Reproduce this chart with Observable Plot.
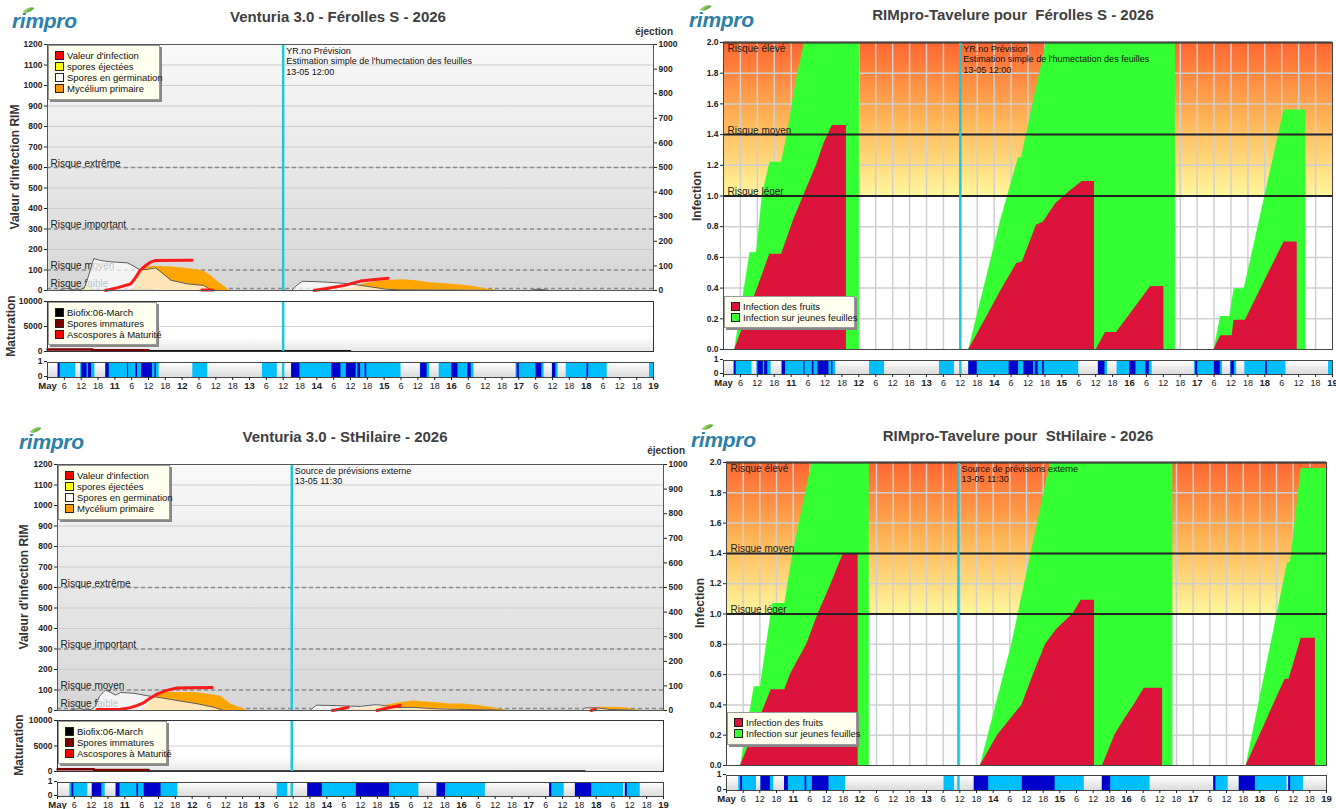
<!DOCTYPE html>
<html><head><meta charset="utf-8">
<script src="https://cdn.jsdelivr.net/npm/d3@7"></script>
<script src="https://cdn.jsdelivr.net/npm/@observablehq/plot@0.6"></script>
<style>
body{margin:0;background:#fff;width:1336px;height:809px;overflow:hidden;font-family:"Liberation Sans",Arial,sans-serif;}
#root{position:relative;width:1336px;height:809px;}
.title{position:absolute;font-weight:bold;font-size:15px;color:#404040;white-space:pre;transform:translateX(-50%);line-height:18px;}
.logo{position:absolute;font-style:italic;font-weight:bold;font-size:21px;line-height:21px;color:#2a80a6;letter-spacing:-0.3px;}
.leaf{position:absolute;width:11px;height:6px;background:linear-gradient(#a8dc70,#4fa030);border-radius:0 100% 0 100%;transform:rotate(-45deg);}
.vlab{position:absolute;font-weight:bold;font-size:12px;color:#333;white-space:nowrap;transform:translate(-50%,-50%) rotate(-90deg);}
.ej{position:absolute;font-weight:bold;font-size:10px;color:#333;transform:translateX(-100%);}
.lg{position:absolute;background:#ffffee;border:1px solid #999;box-shadow:2px 2px 0 #888;font-size:9.5px;color:#111;padding:4px 0 0 6px;box-sizing:border-box;}
.lg div{height:11px;line-height:11px;white-space:nowrap;}
.lg span{display:inline-block;width:7px;height:7px;border:1px solid #222;margin-right:3px;vertical-align:-1px;}
</style></head>
<body>
<svg width="0" height="0" style="position:absolute">
<defs>
<linearGradient id="gGray" x1="0" y1="0" x2="0" y2="1"><stop offset="0" stop-color="#f9f9f9"/><stop offset="1" stop-color="#d6d6d6"/></linearGradient>
<linearGradient id="gWhite" x1="0" y1="0" x2="0" y2="1"><stop offset="0" stop-color="#ffffff"/><stop offset="0.7" stop-color="#ffffff"/><stop offset="1" stop-color="#e8e8e8"/></linearGradient>
<linearGradient id="gStrip" x1="0" y1="0" x2="0" y2="1"><stop offset="0" stop-color="#ffffff"/><stop offset="1" stop-color="#dcdcdc"/></linearGradient>
<linearGradient id="gRisk" x1="0" y1="0" x2="0" y2="1"><stop offset="0" stop-color="#ff6630"/><stop offset="0.5" stop-color="#ffb455"/><stop offset="1" stop-color="#fff69c"/></linearGradient>
</defs></svg>
<div id="root"></div>
<script>
// ---------- axis ticks ----------
const hourTicks = d3.range(0, 217, 6).filter(h => h % 24 !== 0);
const dayTicks = d3.range(0, 217, 24);
const dayLabels = ["May","11","12","13","14","15","16","17","18","19"];
const risksVenturia = [{v:600,label:"Risque extrême"},{v:300,label:"Risque important"},{v:100,label:"Risque moyen"},{v:10,label:"Risque faible"}];
const risksRimTop = [{v:2.0,label:"Risque élevé"}];
const risksRim = [{v:1.4,label:"Risque moyen"},{v:1.0,label:"Risque léger"}];
const fsForecastT = 84, shForecastT = 83.5;
const fsForecastText = "YR.no Prévision\nEstimation simple de l'humectation des feuilles\n13-05 12:00";
const shForecastText = "Source de prévisions externe\n13-05 11:30";

// ---------- Férolles S (hours since 10 May 00:00) ----------
const fsWetLight = [[3.8,10.1],[11.8,16.9],[20.8,39.8],[51.8,57.1],[76.6,81.9],[87.0,126.0],[132.9,136.2],[139.6,152.0],[167.0,177.0],[179.9,182.0],[184.9,199.5],[214.6,216]];
const fsWetDark = [[3.8,4.5],[12.2,14.1],[14.6,15.7],[20.8,22.0],[28.5,28.9],[31.5,32.1],[33.5,37.4],[38.3,38.8],[87.0,90.0],[101.3,104.6],[106.5,110.0],[110.6,111.6],[113.2,113.8],[133.0,135.3],[144.1,146.3],[149.8,151.0],[167.4,168.2],[174.1,176.2],[180.0,181.2],[192.3,192.9]];
const fsGerm = [[0,0],[4,0],[5,6],[7,9],[9,4],[11,3],[13,10],[14,45],[16.5,156],[19,146],[22.5,140],[28.4,135],[30,125],[33,100],[36,104],[38.5,110],[40,95],[44,50],[50,32],[55.6,25],[57,14],[59,0],[87,0],[88.5,22],[90.8,45],[96,43],[102,39],[105.5,35],[110,28],[114,20],[118,12],[121,6],[126,3],[150,2],[160,0],[172,0],[174,6],[177,4],[179,0],[216,0]];
const fsMyc = [[0,0],[30,0],[31.5,30],[33,85],[35,112],[38,118],[44,115],[48,110],[52,104],[55.6,95],[58,75],[61,40],[65,0],[104,0],[108,10],[113,33],[118,45],[123,50],[127,53],[132,46],[136.5,38],[142,33],[148,26],[152,20],[156,8],[161,0],[216,0]];
const fsEject = [[12,0],[13,12],[14,22],[15.5,14],[16.5,0],[29,0],[30,4],[37,5],[38,0]];
const fsInf = [
  [[20.7,0],[25,14],[29.6,32],[31,55],[33,98],[35,122],[36.7,138],[38.3,146],[51.5,148]],
  [[55,3],[59,3]],
  [[95,0],[101,13],[106,25],[111.5,46],[121.4,60]]
];
const fsMatImm = [[0,420],[16,420],[16,270],[36,270]];
const fsMatBio = [[36,150],[108,150]];
const fsLeaf = [[0,0],[4.0,0],[9.4,0.63],[11.7,0.63],[12.9,0.84],[13.7,1.0],[16.5,1.22],[20.6,1.22],[22.6,1.4],[26.2,1.79],[28.8,2.0],[48.2,2.0],[48.2,0],[87,0],[98.3,0.84],[104.6,1.25],[105.7,1.25],[110,1.62],[114.5,2.0],[160.3,2.0],[160.3,0],[174,0],[176.3,0.215],[179.6,0.215],[181.1,0.395],[184.7,0.395],[198.8,1.56],[206.6,1.56],[206.6,0],[216,0]];
const fsFruit = [[0,0],[4.0,0],[7.8,0.19],[12.1,0.4],[16.4,0.62],[20.6,0.62],[24.8,0.84],[28.4,1.0],[33.0,1.2],[35.6,1.34],[38.6,1.46],[43.6,1.46],[43.6,0],[87,0],[90,0.1],[93,0.2],[98.3,0.38],[104,0.56],[106,0.57],[111,0.81],[113.5,0.83],[117.8,0.95],[122.4,1.025],[127.2,1.095],[131.6,1.095],[131.6,0],[132.2,0],[135.5,0.11],[139.4,0.11],[145,0.25],[151.5,0.41],[156.2,0.41],[156.2,0],[174,0],[176.3,0.09],[180.4,0.09],[181.1,0.19],[185.1,0.19],[198.8,0.70],[203.5,0.70],[203.5,0],[216,0]];

// ---------- StHilaire ----------
const shWetLight = [[4.4,10.8],[12.4,17.0],[20.9,42.9],[78.3,82.1],[89.2,128.8],[135.3,152.5],[175.4,180.6],[184.6,201.8],[202.4,207.7]];
const shWetDark = [[5.1,5.8],[12.4,15.8],[20.9,22.3],[28.3,28.9],[30.9,36.9],[89.2,94.4],[106.5,118.3],[135.3,138.3],[175.4,176.2],[184.6,190.4],[202.4,203.1]];
const shGerm = [[0,0],[4,0],[6,6],[8,9],[10,3],[12,5],[13.5,20],[15,70],[17.1,100],[19,88],[20.7,75],[22.5,88],[27.2,84],[32,72],[37,62],[42.6,49],[49.8,33],[55.7,16],[59.3,0],[90,0],[92.3,26],[99.4,24],[103,22],[108,20],[113,28],[115,27],[121,15],[127,15],[135,8],[145,5],[155,3],[160,0],[187,0],[188,13],[192.5,13],[197,5],[205,2],[209,0],[216,0]];
const shMyc = [[0,0],[30.8,0],[33,40],[36.8,80],[38,88],[48.6,88],[54.6,78],[58.2,70],[61.9,30],[67.6,0],[103,0],[106,5],[110,12],[114,18],[118,28],[122,38],[126.9,46],[131,42],[136.5,36],[140,32],[144.7,32],[150,25],[154,16],[157,8],[160.3,0],[188,0],[190,10],[193,16],[200,15],[204,10],[207,0],[216,0]];
const shEject = [[12.5,0],[13.5,8],[14.5,0]];
const shInf = [
  [[14.1,5],[22,5],[26,14],[28.5,25],[30.8,39],[33,60],[35.5,80],[38.5,97],[42.6,110],[55.1,112]],
  [[98,0],[100.5,6],[103.7,16]],
  [[113.9,0],[118,13],[122.2,24]],
  [[190.2,0],[191.8,6]]
];
const shMatImm = [[0,450],[13,450],[13,300],[32.5,300]];
const shMatBio = [[32.5,100],[188,100]];
const shLeaf = [[0,0],[5.1,0],[10.0,0.52],[12.2,0.52],[16.6,1.07],[21.0,1.07],[23.9,1.4],[30.8,2.0],[51.4,2.0],[51.4,0],[91.4,0],[102.7,0.8],[116.6,2.0],[160.7,2.0],[160.7,0],[187.1,0],[202.0,1.34],[203.0,1.34],[206.9,1.96],[216,1.96]];
const shFruit = [[0,0],[5.1,0],[16.1,0.5],[21.0,0.5],[23.0,0.6],[28.9,0.8],[33.0,1.0],[37.7,1.2],[42.1,1.4],[47.4,1.4],[47.4,0],[91.4,0],[97.6,0.2],[106.4,0.4],[110.5,0.6],[114.9,0.8],[118.9,0.9],[124.7,1.0],[127.7,1.09],[132.5,1.09],[132.5,0],[135.4,0],[139.8,0.2],[143.1,0.3],[146.7,0.4],[150.4,0.51],[157.0,0.51],[157.0,0],[187.1,0],[201.1,0.57],[202.5,0.57],[206.9,0.84],[212.0,0.84],[212.0,0],[216,0]];

// ---------- helpers ----------
const FONT = '"Liberation Sans", Arial, sans-serif';
const root = document.getElementById("root");
const span = [{a:0, b:216}];
const pts = a => a.map(([t,v]) => ({t, v}));
const segs = list => list.flatMap((s,i) => s.map(([t,v]) => ({t, v, seg:i})));
const ivals = a => a.map(([s,e]) => ({s, e}));
const plain = d => String(Math.round(d));
function base(P, ml, mr, mt, mb) {
  return {width: P.x1-P.x0+ml+mr, height: P.y1-P.y0+mt+mb, marginLeft: ml, marginRight: mr, marginTop: mt, marginBottom: mb,
    style: {fontFamily: FONT, background: "transparent", overflow: "visible", color: "#222"}};
}
function put(el, P, ml, mt) {
  el.style.position = "absolute"; el.style.left = (P.x0-ml)+"px"; el.style.top = (P.y0-mt)+"px";
  root.appendChild(el);
}
const cyan = {stroke:"#1ec8d8", strokeWidth:2.5};
const xs = {domain:[0,216], axis:null, label:null};

function venturiaMain(P, s) {
  const el = Plot.plot({...base(P,40,45,6,4),
    x:xs, y:{domain:[0,1200], axis:null, label:null},
    marks:[
      Plot.rect(span,{x1:"a",x2:"b",fill:"url(#gGray)"}),
      Plot.ruleY(d3.range(100,1200,100),{stroke:"#cbcbcb"}),
      Plot.ruleY(risksVenturia,{y:"v",stroke:"#8a8a8a",strokeWidth:1.5,strokeDasharray:"4,3"}),
      Plot.text(risksVenturia,{y:"v",text:"label",frameAnchor:"left",textAnchor:"start",lineAnchor:"bottom",dx:3,dy:-1,fontSize:10,fill:"#222"}),
      Plot.areaY(pts(s.myc),{x:"t",y:"v",fill:"#ffa500"}),
      Plot.areaY(pts(s.eject),{x:"t",y:"v",fill:"#c8c800",stroke:"#333",strokeWidth:0.5}),
      Plot.areaY(pts(s.germ),{x:"t",y:"v",fill:"#ffffff",fillOpacity:0.72}),
      Plot.lineY(pts(s.germ),{x:"t",y:"v",stroke:"#333",strokeWidth:0.8}),
      Plot.line(segs(s.inf),{x:"t",y:"v",z:"seg",stroke:"#ff1a1a",strokeWidth:3}),
      Plot.ruleX([s.fc],cyan),
      Plot.text([{t:s.fc, s:s.fcText}],{x:"t",frameAnchor:"top",text:"s",textAnchor:"start",lineAnchor:"top",dx:3,dy:2,fontSize:9,lineHeight:1.15,fill:"#111"}),
      Plot.frame({stroke:"#555"}),
      Plot.axisY(d3.range(0,1201,100),{anchor:"left",label:null,tickSize:3,tickPadding:2,fontSize:8.5,fontWeight:"bold",tickFormat:plain}),
      Plot.axisY(d3.range(0,1001,100).map(v=>v*1.2),{anchor:"right",label:null,tickSize:3,tickPadding:2,fontSize:8.5,fontWeight:"bold",tickFormat:d=>plain(d/1.2)})
    ]});
  put(el,P,40,6);
}
function venturiaMat(P, s) {
  const el = Plot.plot({...base(P,40,45,3,3),
    x:xs, y:{domain:[0,10000], axis:null, label:null},
    marks:[
      Plot.rect(span,{x1:"a",x2:"b",fill:"url(#gWhite)"}),
      Plot.ruleY([5000],{stroke:"#d0d0d0"}),
      Plot.lineY(pts(s.bio),{x:"t",y:"v",stroke:"#111",strokeWidth:1.5}),
      Plot.lineY(pts(s.imm),{x:"t",y:"v",stroke:"#7a0000",strokeWidth:2.5}),
      Plot.ruleX([s.fc],cyan),
      Plot.frame({stroke:"#333"}),
      Plot.axisY([0,5000,10000],{anchor:"left",label:null,tickSize:3,tickPadding:2,fontSize:8.5,fontWeight:"bold",tickFormat:plain})
    ]});
  put(el,P,40,3);
}
function wetStrip(P, s) {
  const el = Plot.plot({...base(P,40,45,2,17),
    x:xs, y:{domain:[0,1], axis:null, label:null},
    marks:[
      Plot.rect(span,{x1:"a",x2:"b",fill:"url(#gStrip)"}),
      Plot.rect(ivals(s.light),{x1:"s",x2:"e",fill:"#00bfff"}),
      Plot.rect(ivals(s.dark),{x1:"s",x2:"e",fill:"#0000cd"}),
      Plot.ruleX([s.fc],cyan),
      Plot.frame({stroke:"#444"}),
      Plot.axisY([0,1],{anchor:"left",label:null,tickSize:3,tickPadding:2,fontSize:8.5,fontWeight:"bold",dy:-1,tickFormat:plain}),
      Plot.axisX(hourTicks,{label:null,tickSize:3,tickPadding:2,fontSize:9,tickFormat:d=>String(d%24)}),
      Plot.axisX(dayTicks,{label:null,tickSize:3,tickPadding:2,fontSize:9.5,fontWeight:"bold",tickFormat:d=>dayLabels[d/24]})
    ]});
  put(el,P,40,2);
}
function rimMain(P, s) {
  const el = Plot.plot({...base(P,30,6,4,2),
    x:xs, y:{domain:[0,2], axis:null, label:null},
    marks:[
      Plot.rect([{a:0,b:216,lo:1,hi:2}],{x1:"a",x2:"b",y1:"lo",y2:"hi",fill:"url(#gRisk)"}),
      Plot.ruleX(d3.range(6,216,6),{stroke:"#cfcfcf",strokeWidth:1.5}),
      Plot.ruleY(d3.range(0.2,1.99,0.2),{stroke:"#cfcfcf",strokeWidth:1.5}),
      Plot.areaY(pts(s.leaf),{x:"t",y:"v",fill:"#33ff33"}),
      Plot.areaY(pts(s.fruit),{x:"t",y:"v",fill:"#dc143c"}),
      Plot.ruleY([1.0,1.4,2.0],{stroke:"#222",strokeWidth:2}),
      Plot.text(risksRimTop,{y:"v",text:"label",frameAnchor:"left",textAnchor:"start",lineAnchor:"top",dx:4,dy:2,fontSize:10,fill:"#222"}),
      Plot.text(risksRim,{y:"v",text:"label",frameAnchor:"left",textAnchor:"start",lineAnchor:"bottom",dx:4,dy:-1,fontSize:10,fill:"#222"}),
      Plot.ruleX([s.fc],cyan),
      Plot.text([{t:s.fc, s:s.fcText}],{x:"t",frameAnchor:"top",text:"s",textAnchor:"start",lineAnchor:"top",dx:3,dy:2,fontSize:9,lineHeight:1.15,fill:"#111"}),
      Plot.frame({stroke:"#444"}),
      Plot.axisY(d3.range(0,2.01,0.2),{anchor:"left",label:null,tickSize:3,tickPadding:2,fontSize:8.5,fontWeight:"bold",tickFormat:d3.format(".1f")})
    ]});
  put(el,P,30,4);
}

// ---------- draw ----------
const fsV = {germ:fsGerm, myc:fsMyc, eject:fsEject, inf:fsInf, fc:fsForecastT, fcText:fsForecastText, imm:fsMatImm, bio:fsMatBio, light:fsWetLight, dark:fsWetDark, leaf:fsLeaf, fruit:fsFruit};
const shV = {germ:shGerm, myc:shMyc, eject:shEject, inf:shInf, fc:shForecastT, fcText:shForecastText, imm:shMatImm, bio:shMatBio, light:shWetLight, dark:shWetDark, leaf:shLeaf, fruit:shFruit};

venturiaMain({x0:47,x1:653,y0:44,y1:290}, fsV);
venturiaMat({x0:47,x1:653,y0:301,y1:351}, fsV);
wetStrip({x0:47,x1:653,y0:362,y1:377}, fsV);
rimMain({x0:723,x1:1332,y0:42,y1:349}, fsV);
wetStrip({x0:723,x1:1332,y0:360,y1:374}, fsV);

venturiaMain({x0:57,x1:663,y0:464,y1:710}, shV);
venturiaMat({x0:57,x1:663,y0:720,y1:771}, shV);
wetStrip({x0:57,x1:663,y0:782,y1:796}, shV);
rimMain({x0:726,x1:1326,y0:462,y1:765}, shV);
wetStrip({x0:726,x1:1326,y0:775,y1:790}, shV);

// ---------- HTML text: titles, logos, labels, legends ----------
function add(cls, x, y, text) { const d=document.createElement("div"); d.className=cls; d.style.left=x+"px"; d.style.top=y+"px"; if(text!=null) d.textContent=text; root.appendChild(d); return d; }
function legend(x, y, w, h, items) {
  const d = add("lg", x, y); d.style.width=w+"px"; d.style.height=h+"px";
  items.forEach(([c,t]) => { const r=document.createElement("div"); const s=document.createElement("span"); s.style.background=c; r.appendChild(s); r.appendChild(document.createTextNode(t)); d.appendChild(r); });
}
const legMain = [["#ff0000","Valeur d'infection"],["#ffff00","spores éjectées"],["#ffffff","Spores en germination"],["#ff9900","Mycélium primaire"]];
const legMat = [["#000000","Biofix:06-March"],["#7a0000","Spores immatures"],["#ff0000","Ascospores à Maturité"]];
const legRim = [["#dc143c","Infection des fruits"],["#33ff33","Infection sur jeunes feuilles"]];

[[12,10,23,7],[689,9,700,5],[19,431,30,427],[691,429,702,424]].forEach(([x,y,lx,ly])=>{ add("leaf",lx,ly); add("logo",x,y,"rimpro"); });
add("title",338,8,"Venturia 3.0 - Férolles S - 2026");
add("title",1013,6,"RIMpro-Tavelure pour  Férolles S - 2026");
add("title",345,428,"Venturia 3.0 - StHilaire - 2026");
add("title",1018,427,"RIMpro-Tavelure pour  StHilaire - 2026");
add("ej",673,26,"éjection");
add("ej",685,445,"éjection");
add("vlab",15,167,"Valeur d'infection RIM");
add("vlab",11,326,"Maturation");
add("vlab",24,587,"Valeur d'infection RIM");
add("vlab",19,745,"Maturation");
add("vlab",697,196,"Infection");
add("vlab",700,603,"Infection");
legend(48,45,112,55,legMain);
legend(48,302,109,43,legMat);
legend(58,465,112,55,legMain);
legend(58,721,109,43,legMat);
legend(724,296,131,32,legRim);
legend(727,712,130,33,legRim);
</script>
</body></html>
